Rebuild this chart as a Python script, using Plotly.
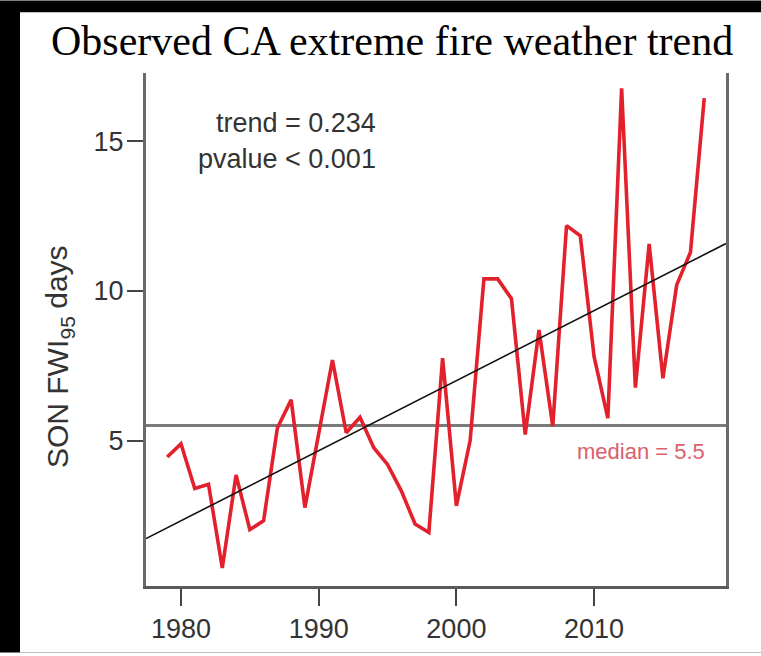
import plotly.graph_objects as go

years = list(range(1979, 2019))
fwi95_days = [4.45, 4.89, 3.40, 3.54, 0.74, 3.85, 2.02, 2.32, 5.42, 6.36,
              2.76, 5.30, 7.69, 5.26, 5.78, 4.76, 4.20, 3.32, 2.21, 1.93,
              7.75, 2.82, 5.00, 10.40, 10.40, 9.74, 5.20, 8.69, 5.48, 12.18,
              11.84, 7.80, 5.75, 16.77, 6.77, 11.57, 7.08, 10.20, 11.29, 16.44]
trend_slope = 0.234
trend_at_2000 = 7.0
median_value = 5.5
x_tick_vals = [1980, 1990, 2000, 2010]
y_tick_vals = [5, 10, 15]

x_range = [1977.46, 2019.58]
y_range = [0.14, 17.28]

W, H = 761, 656
L, R, T, B = 146, 35, 73, 67

trend_x = x_range
trend_y = [trend_at_2000 + trend_slope * (x - 2000) for x in trend_x]

fig = go.Figure()
fig.add_trace(go.Scatter(x=years, y=fwi95_days, mode="lines",
                         line=dict(color="#e3212c", width=3.6),
                         hoverinfo="skip", showlegend=False))
fig.add_trace(go.Scatter(x=trend_x, y=trend_y, mode="lines",
                         line=dict(color="#111111", width=1.6),
                         hoverinfo="skip", showlegend=False))

def px_x(p):
    return (p - L) / (W - L - R)

def px_y(p):
    return (H - B - p) / (H - T - B)

shapes = [
    dict(type="rect", xref="paper", yref="paper",
         x0=px_x(0), x1=px_x(W), y0=px_y(H), y1=px_y(0),
         fillcolor="black", line_width=0, layer="below"),
    dict(type="rect", xref="paper", yref="paper",
         x0=px_x(20), x1=px_x(W), y0=px_y(H), y1=px_y(12),
         fillcolor="white", line_width=0, layer="below"),
    dict(type="line", xref="paper", yref="y", x0=0, x1=1,
         y0=median_value, y1=median_value,
         line=dict(color="#7a7a7a", width=3), layer="below"),
]

ytitle_font = dict(family="Liberation Sans", size=30, color="#333333")
ytitle_sub_font = dict(family="Liberation Sans", size=21, color="#333333")

annotations = [
    dict(text="Observed CA extreme fire weather trend", xref="paper", yref="paper",
         x=px_x(392), y=px_y(41), xanchor="center", yanchor="middle", showarrow=False,
         font=dict(family="Liberation Serif", size=42, color="#000000")),
    # y-axis title "SON FWI95 days" in three rotated pieces (95 as subscript)
    dict(text="SON FWI", xref="paper", yref="paper",
         x=px_x(57), y=px_y(406), xanchor="center", yanchor="middle",
         textangle=-90, showarrow=False, font=ytitle_font),
    dict(text="95", xref="paper", yref="paper",
         x=px_x(68), y=px_y(330), xanchor="center", yanchor="middle",
         textangle=-90, showarrow=False, font=ytitle_sub_font),
    dict(text="days", xref="paper", yref="paper",
         x=px_x(57), y=px_y(279), xanchor="center", yanchor="middle",
         textangle=-90, showarrow=False, font=ytitle_font),
    dict(text="trend = 0.234", xref="paper", yref="paper",
         x=px_x(378), y=px_y(123), xanchor="right", yanchor="middle", showarrow=False,
         font=dict(family="Liberation Sans", size=27, color="#333333")),
    dict(text="pvalue &lt; 0.001", xref="paper", yref="paper",
         x=px_x(378), y=px_y(160), xanchor="right", yanchor="middle", showarrow=False,
         font=dict(family="Liberation Sans", size=27, color="#333333")),
    dict(text="median = 5.5", xref="paper", yref="paper",
         x=px_x(707), y=px_y(454), xanchor="right", yanchor="middle", showarrow=False,
         font=dict(family="Liberation Sans", size=22, color="#d9606c")),
]

fig.update_layout(
    width=W, height=H,
    margin=dict(l=L, r=R, t=T, b=B, pad=0),
    paper_bgcolor="white", plot_bgcolor="white",
    shapes=shapes, annotations=annotations,
    xaxis=dict(range=x_range, tickvals=x_tick_vals, ticktext=[str(v) for v in x_tick_vals],
               showgrid=False, zeroline=False, showline=True, linecolor="#5a5a5a",
               linewidth=2.5, ticks="outside", ticklen=17, tickwidth=2, tickcolor="#444444",
               tickfont=dict(family="Liberation Sans", size=27, color="#333333")),
    yaxis=dict(range=y_range, tickvals=y_tick_vals, ticktext=[str(v) for v in y_tick_vals],
               showgrid=False, zeroline=False, showline=True, mirror=True,
               linecolor="#6a6a6a", linewidth=3, ticks="outside", ticklen=16,
               tickwidth=2, tickcolor="#444444", ticklabelstandoff=-2,
               tickfont=dict(family="Liberation Sans", size=27, color="#333333")),
)

fig.write_html(
    "out.html",
    config={"displayModeBar": False},
    post_script="document.body.style.margin='0';document.body.style.background='black';",
)
